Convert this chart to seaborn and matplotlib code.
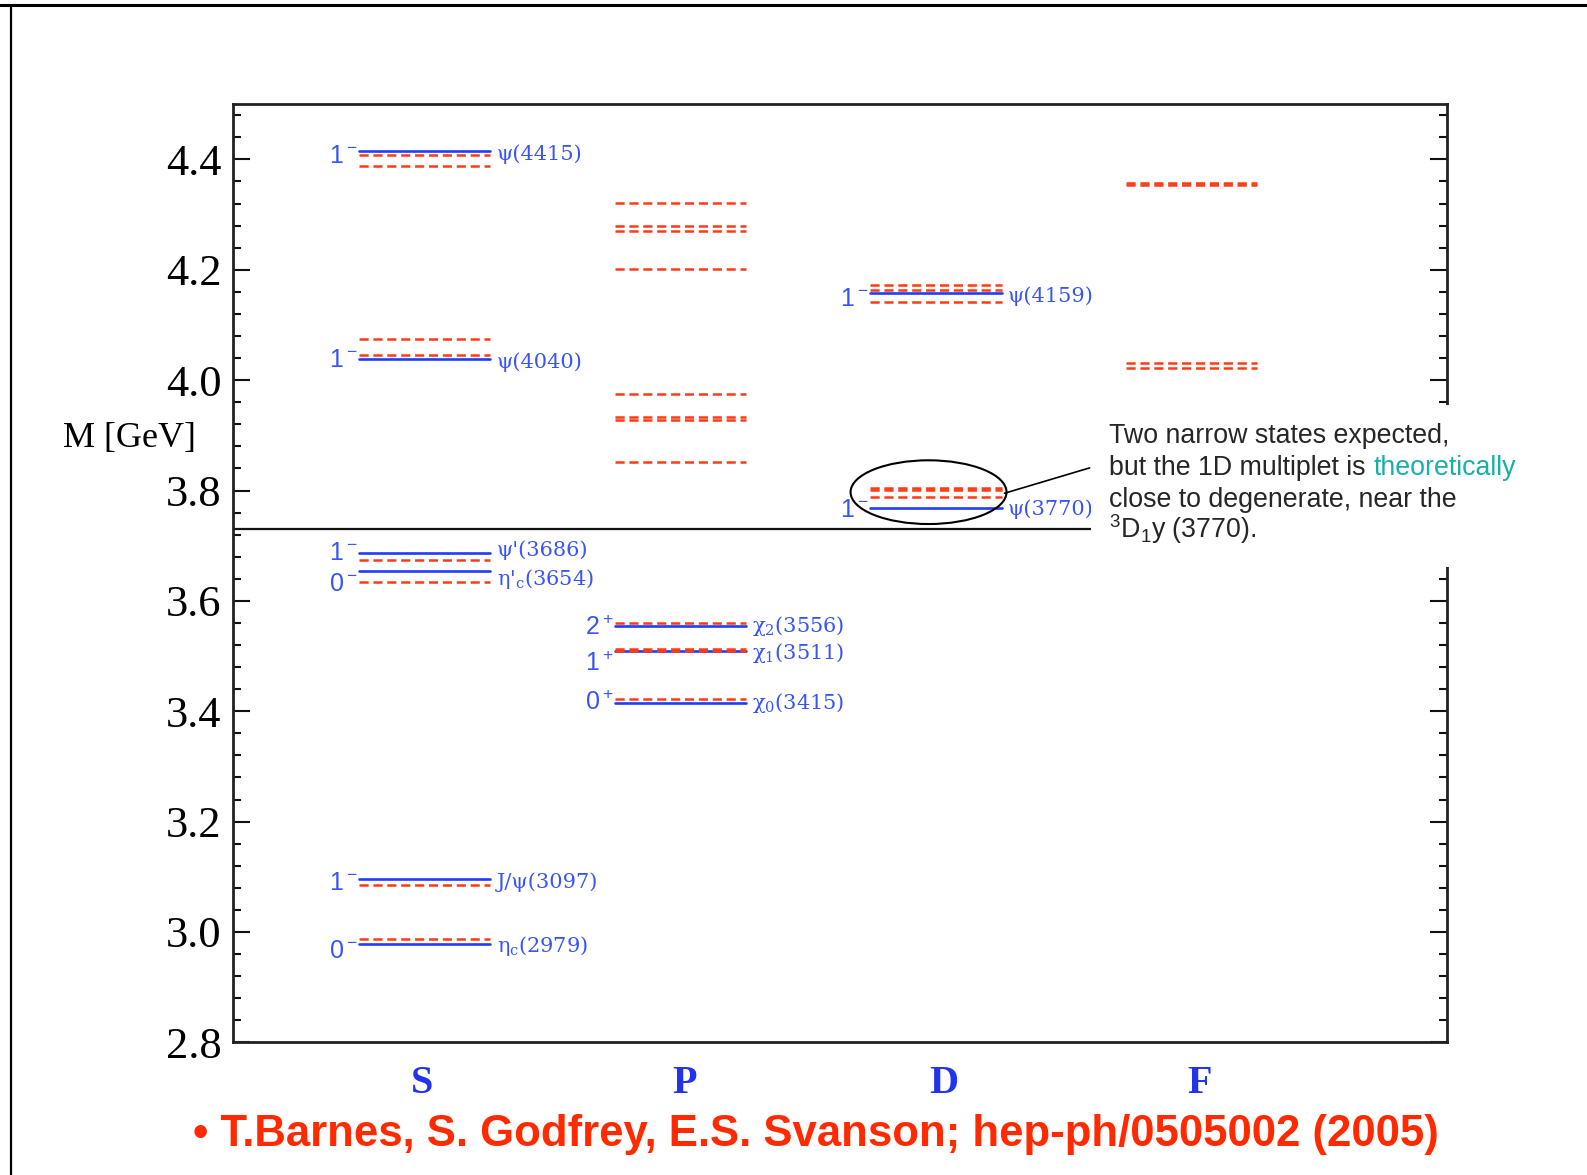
import numpy as np
import pandas as pd
import matplotlib
matplotlib.use("Agg")
import matplotlib.pyplot as plt
import seaborn as sns
from matplotlib.patches import Ellipse, Rectangle
from matplotlib.lines import Line2D
from matplotlib.ticker import FixedLocator

# ---------------- data ----------------
columns = ["S", "P", "D", "F"]

exp_wave = ["S", "S", "S", "S", "S", "S", "P", "P", "P", "D", "D"]
exp_mass = [2.979, 3.096, 3.654, 3.686, 4.039, 4.415, 3.415, 3.510, 3.555, 3.769, 4.158]
exp_jpc = ["0^-", "1^-", "0^-", "1^-", "1^-", "1^-", "0^+", "1^+", "2^+", "1^-", "1^-"]
exp_name = [r"η$\mathregular{_c}$(2979)", "J/ψ(3097)", r"η'$\mathregular{_c}$(3654)",
            "ψ'(3686)", "ψ(4040)", "ψ(4415)",
            r"χ$\mathregular{_0}$(3415)", r"χ$\mathregular{_1}$(3511)", r"χ$\mathregular{_2}$(3556)",
            "ψ(3770)", "ψ(4159)"]

th_wave = ["S"] * 8 + ["P"] * 12 + ["D"] * 6 + ["F"] * 4
th_mass = [2.987, 3.086, 3.635, 3.674, 4.046, 4.074, 4.388, 4.408,
           3.423, 3.509, 3.513, 3.559, 3.852, 3.927, 3.933, 3.975, 4.202, 4.271, 4.279, 4.321,
           3.788, 3.801, 3.805, 4.141, 4.164, 4.172,
           4.022, 4.031, 4.353, 4.357]

threshold = 3.73
y_ticks = [2.8, 3.0, 3.2, 3.4, 3.6, 3.8, 4.0, 4.2, 4.4]
y_tick_labels = ["2.8", "3.0", "3.2", "3.4", "3.6", "3.8", "4.0", "4.2", "4.4"]

note_lines = ["Two narrow states expected,", "but the 1D multiplet is", "theoretically",
              "close to degenerate, near the", r"$\mathregular{^3D_1}$y (3770)."]
citation = "• T.Barnes, S. Godfrey, E.S. Svanson; hep-ph/0505002 (2005)"

# ---------------- style ----------------
BLUE = "#1f3cff"
BLUE_TXT = "#3a55f5"
RED = "#ff3a14"
TEAL = "#1aaeae"
HALF = 0.257

sns.set_theme(style="white")
plt.rcParams["font.family"] = ["Liberation Serif", "DejaVu Serif"]
plt.rcParams["lines.scale_dashes"] = False
plt.rcParams["axes.linewidth"] = 2.0
plt.rcParams["axes.edgecolor"] = "#222222"

fig = plt.figure(figsize=(15.87, 11.75), dpi=100)
fig.patch.set_facecolor("white")
ax = fig.add_axes([0.1467, 0.1129, 0.912 - 0.1467, 0.9113 - 0.1129])
ax.set_facecolor("white")

xpos = {c: i + 1 for i, c in enumerate(columns)}


def segments(wave, mass):
    rows = []
    for k, (w, m) in enumerate(zip(wave, mass)):
        rows.append({"uid": k, "x": xpos[w] - HALF, "M": m})
        rows.append({"uid": k, "x": xpos[w] + HALF, "M": m})
    return pd.DataFrame(rows)


sns.lineplot(data=segments(exp_wave, exp_mass), x="x", y="M", units="uid",
             estimator=None, sort=False, color=BLUE, lw=1.9, ax=ax, legend=False, zorder=3)
sns.lineplot(data=segments(th_wave, th_mass), x="x", y="M", units="uid",
             estimator=None, sort=False, color=RED, lw=1.8, linestyle=(0, (6.6, 3.4)),
             ax=ax, legend=False, zorder=4)

ax.axhline(threshold, color="#111111", lw=1.6, zorder=2)

# left J^P labels (baseline offsets)
left_nudge = {2: -0.037, 3: -0.012, 4: -0.015, 6: -0.012, 7: -0.037, 8: -0.017, 9: -0.017, 10: -0.023,
              0: -0.027, 1: -0.020, 5: -0.021}
for k, (w, m, jp) in enumerate(zip(exp_wave, exp_mass, exp_jpc)):
    ax.text(xpos[w] - HALF - 0.004, m + left_nudge.get(k, -0.02), r"$\mathregular{" + jp + "}$",
            ha="right", va="baseline", color=BLUE_TXT, fontsize=18,
            family=["Liberation Sans", "DejaVu Sans"], zorder=5)

right_nudge = {0: -0.004, 1: -0.005, 2: -0.015, 3: 0.006, 4: -0.006, 5: -0.006,
               6: 0.0, 7: -0.005, 8: 0.0, 9: -0.002, 10: -0.005}
for k, (w, m, nm) in enumerate(zip(exp_wave, exp_mass, exp_name)):
    ax.text(xpos[w] + HALF + 0.025, m + right_nudge.get(k, 0.0), nm,
            ha="left", va="center", color=BLUE_TXT, fontsize=15,
            family=["DejaVu Serif"], zorder=5)

# ellipse + pointer
ax.add_patch(Ellipse((2.971, 3.797), 0.61, 0.1155, fill=False, ec="black", lw=1.5, zorder=6))
ax.plot([3.268, 3.601], [3.795, 3.841], color="black", lw=1.2, zorder=6)

# axes
ax.set_xlim(0.25, 5.0)
ax.set_ylim(2.8, 4.5)
ax.yaxis.set_major_locator(FixedLocator(y_ticks))
ax.set_yticklabels(y_tick_labels)
ax.yaxis.set_minor_locator(FixedLocator(np.round(np.arange(2.84, 4.5, 0.04), 2)))
ax.tick_params(axis="y", which="both", direction="in", left=True, right=True,
               labelleft=True, labelright=False, colors="#111111", width=1.5)
ax.tick_params(axis="y", which="major", length=12, pad=8, labelsize=32, labelcolor="black")
ax.tick_params(axis="y", which="minor", length=6)
label_shift = [-0.008, 0.016, 0.03, 0.03]
ax.set_xticks([xpos[c] + s for c, s in zip(columns, label_shift)])
ax.set_xticklabels(columns)
ax.tick_params(axis="x", which="both", length=0, pad=16, labelsize=29, labelcolor="#2233ee")
for lab in ax.get_xticklabels():
    lab.set_fontweight("bold")
for sp in ax.spines.values():
    sp.set_visible(True)
    sp.set_linewidth(2.0)
    sp.set_color("#222222")
ax.set_xlabel("")
ax.set_ylabel("M [GeV]", rotation=0, fontsize=26, color="black", ha="center", va="center")
ax.yaxis.set_label_coords(-0.0855, 0.6435)

# white note box covering the right side
fig.add_artist(Rectangle((0.6875, 0.5174), 0.3125, 0.138, transform=fig.transFigure,
                         facecolor="white", edgecolor="none", zorder=10))

sans = ["Liberation Sans", "DejaVu Sans"]
fig.text(0.699, 0.6227, note_lines[0], ha="left", va="baseline", fontsize=19.3, family=sans, zorder=11)
t2 = fig.text(0.699, 0.5957, note_lines[1], ha="left", va="baseline", fontsize=19.3, family=sans, zorder=11)
fig.add_artist(plt.Annotation(note_lines[2], xy=(1.0, 0.5), xycoords=t2, xytext=(5.4, 0.0),
                              textcoords="offset points", ha="left", va="center", fontsize=19.3,
                              color=TEAL, family=sans, zorder=11))
fig.text(0.699, 0.5688, note_lines[3], ha="left", va="baseline", fontsize=19.3, family=sans, zorder=11)
fig.text(0.699, 0.5419, note_lines[4], ha="left", va="baseline", fontsize=19.3, family=sans, zorder=11)

# citation
fig.text(0.514, 0.0345, citation, ha="center", va="center", fontsize=31.5, fontweight="bold",
         color="#ff2a00", family=["Liberation Sans", "DejaVu Sans"], zorder=11)

# slide border
fig.add_artist(Line2D([0.0, 1.0], [0.9957, 0.9957], transform=fig.transFigure, color="black", lw=2.2, zorder=12))
fig.add_artist(Line2D([0.0069, 0.0069], [0.0, 0.9957], transform=fig.transFigure, color="black", lw=1.6, zorder=12))

fig.savefig("out.png", dpi=100, facecolor="white")
